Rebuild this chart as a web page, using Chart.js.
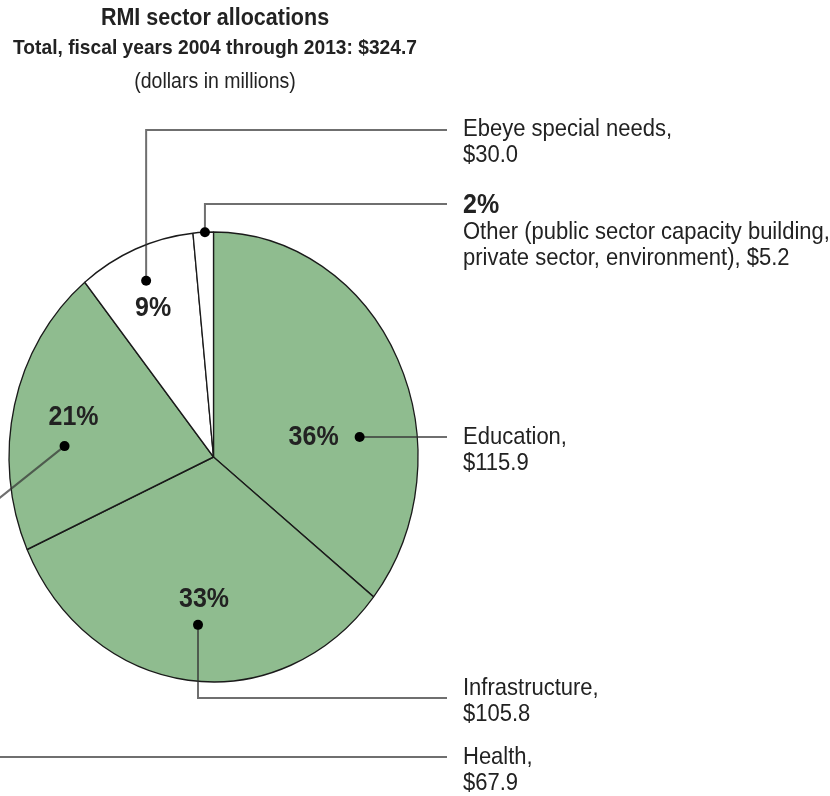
<!DOCTYPE html>
<html>
<head>
<meta charset="utf-8">
<title>RMI sector allocations</title>
<script src="https://cdn.jsdelivr.net/npm/chart.js@4.4.1/dist/chart.umd.min.js"></script>
<style>
  html, body { margin: 0; padding: 0; background: #fff; }
  #wrap { position: relative; width: 830px; height: 796px; }
</style>
</head>
<body>
<div id="wrap"><canvas id="pie" width="830" height="796"></canvas></div>
<script>
// sector allocations, FY2004-2013 (dollars in millions)
const sectors = ['Education', 'Infrastructure', 'Health', 'Ebeye special needs', 'Other'];
const allocations = [115.9, 105.8, 67.9, 30.0, 5.2];
const totalLabel = '$324.7';

// callout text, right column
const calloutLines = [
  ['Education,', '$115.9'],
  ['Infrastructure,', '$105.8'],
  ['Health,', '$67.9'],
  ['Ebeye special needs,', '$30.0'],
  ['Other (public sector capacity building,', 'private sector, environment), $5.2']
];

const GREEN = '#8fbc8f';
const sliceColors = [GREEN, GREEN, GREEN, '#ffffff', '#ffffff'];
const STRETCH = 1.1;          // vertical stretch of the whole figure
const FONT = '"Liberation Sans", Arial, Helvetica, sans-serif';
const INK = '#222';
const LEAD = 'rgba(50,50,50,0.7)';
const COL_X = 463;            // x of the callout column
const LEAD_END = 447;

// where each callout dot sits: angle (deg, clockwise from top) and fraction of radius
const dotPolar = [
  { a: 82.9, f: 0.72 },
  { a: 185.8, f: 0.75 },
  { a: 273.8, f: 0.73 },
  { a: 337.2, f: 0.85 },
  { a: 357.6, f: 1.0 }
];

function stretchedText(ctx, str, x, y, font, align) {
  ctx.save();
  ctx.translate(x, y);
  ctx.scale(1, STRETCH);
  ctx.font = font;
  ctx.textAlign = align || 'left';
  ctx.textBaseline = 'middle';
  ctx.fillStyle = INK;
  ctx.fillText(str, 0, 0);
  ctx.restore();
}

function polyline(ctx, pts) {
  ctx.beginPath();
  ctx.moveTo(pts[0][0], pts[0][1]);
  for (let i = 1; i < pts.length; i++) ctx.lineTo(pts[i][0], pts[i][1]);
  ctx.stroke();
}

const stretchPlugin = {
  id: 'stretch',
  beforeDatasetsDraw(chart) {
    const arc = chart.getDatasetMeta(0).data[0];
    const ctx = chart.ctx;
    ctx.save();
    ctx.translate(arc.x, arc.y);
    ctx.scale(1, STRETCH);
    ctx.translate(-arc.x, -arc.y);
  },
  afterDatasetsDraw(chart) {
    chart.ctx.restore();
  }
};

const calloutPlugin = {
  id: 'callouts',
  afterDraw(chart) {
    const ctx = chart.ctx;
    const arc = chart.getDatasetMeta(0).data[0];
    const cx = arc.x, cy = arc.y, R = arc.outerRadius;
    const total = allocations.reduce((s, v) => s + v, 0);
    const pct = allocations.map(v => Math.round(v / total * 100) + '%');
    const dots = dotPolar.map(p => {
      const r = p.a * Math.PI / 180;
      return [cx + p.f * R * Math.sin(r), cy - p.f * R * Math.cos(r) * STRETCH];
    });

    // titles
    stretchedText(ctx, 'RMI sector allocations', 215, 18, 'bold 21.5px ' + FONT, 'center');
    stretchedText(ctx, 'Total, fiscal years 2004 through 2013: ' + totalLabel, 215, 48, 'bold 19.2px ' + FONT, 'center');
    stretchedText(ctx, '(dollars in millions)', 215, 82, '19.5px ' + FONT, 'center');

    // leader lines
    ctx.save();
    ctx.strokeStyle = LEAD;
    ctx.lineWidth = 2;
    const [dEdu, dInf, dHea, dEbe, dOth] = dots;
    polyline(ctx, [dEdu, [LEAD_END, dEdu[1]]]);
    polyline(ctx, [dInf, [dInf[0], 698], [LEAD_END, 698]]);
    polyline(ctx, [dHea, [dHea[0] - 104, dHea[1] + 83], [-40, 757], [LEAD_END, 757]]);
    polyline(ctx, [dEbe, [dEbe[0], 130], [LEAD_END, 130]]);
    polyline(ctx, [dOth, [dOth[0], 204], [LEAD_END, 204]]);
    ctx.restore();

    // dots
    ctx.fillStyle = '#000';
    dots.forEach(d => {
      ctx.beginPath();
      ctx.arc(d[0], d[1], 5, 0, Math.PI * 2);
      ctx.fill();
    });

    // percentages
    const pctFont = 'bold 25px ' + FONT;
    stretchedText(ctx, pct[0], dEdu[0] - 21, dEdu[1], pctFont, 'right');
    stretchedText(ctx, pct[1], dInf[0] + 6, dInf[1] - 25, pctFont, 'center');
    stretchedText(ctx, pct[2], dHea[0] + 9, dHea[1] - 29, pctFont, 'center');
    stretchedText(ctx, pct[3], dEbe[0] + 7, dEbe[1] + 28, pctFont, 'center');
    stretchedText(ctx, pct[4], COL_X, 205, pctFont, 'left');

    // right-hand callout text
    const f = '22px ' + FONT;
    const rows = [[437, 0], [688, 1], [757, 2], [129, 3], [232, 4]];
    rows.forEach(([y, i]) => {
      stretchedText(ctx, calloutLines[i][0], COL_X, y, f);
      stretchedText(ctx, calloutLines[i][1], COL_X, y + 26, f);
    });
  }
};

new Chart(document.getElementById('pie'), {
  type: 'pie',
  data: {
    labels: sectors,
    datasets: [{
      data: allocations,
      backgroundColor: sliceColors,
      borderColor: '#1a1a1a',
      borderWidth: 1.3,
      borderAlign: 'center',
      radius: 204.5,
      hoverOffset: 0,
      clip: false
    }]
  },
  options: {
    responsive: false,
    devicePixelRatio: 1,
    animation: false,
    events: [],
    layout: { padding: { left: 0, right: 403, top: 250, bottom: 132 } },
    plugins: {
      legend: { display: false },
      tooltip: { enabled: false }
    }
  },
  plugins: [stretchPlugin, calloutPlugin]
});
</script>
</body>
</html>
